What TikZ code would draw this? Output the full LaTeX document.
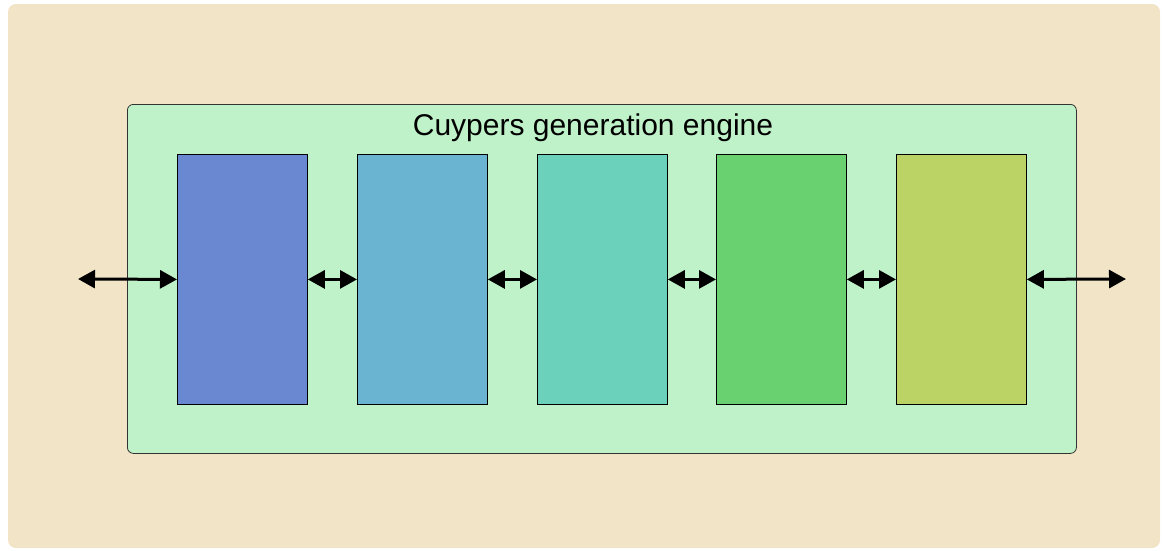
\documentclass[tikz,border=0pt]{standalone}
\usepackage{fontspec}
\setmainfont{Liberation Sans}
\usetikzlibrary{arrows.meta}
\definecolor{bgc}{HTML}{F2E4C6}
\definecolor{engc}{HTML}{BFF2C8}
\definecolor{ca}{HTML}{6A87D1}
\definecolor{cb}{HTML}{6AB4D1}
\definecolor{cc}{HTML}{6BD1BA}
\definecolor{cd}{HTML}{69D170}
\definecolor{ce}{HTML}{BBD264}
\tikzset{
  modbox/.style={draw=black, line width=0.8pt, minimum width=130pt, minimum height=250pt, inner sep=0pt, anchor=north west},
  link/.style={line width=3pt, {Triangle[length=17pt,width=18pt]}-{Triangle[length=17pt,width=18pt]}}
}
\begin{document}
\begin{tikzpicture}[x=1pt,y=-1pt]
\useasboundingbox (0,0) rectangle (1167,550);
\fill[bgc, rounded corners=8pt] (8,4) rectangle (1160,548);
\node[draw=black!80, line width=0.8pt, fill=engc, rounded corners=6pt, minimum width=949pt, minimum height=349pt, inner sep=0pt, anchor=north west] (eng) at (127,104) {};
\node[font=\fontsize{30}{36}\selectfont, anchor=center] (title) at (593,128) {Cuypers generation engine};
\node[modbox, fill=ca] (m1) at (177,154) {};
\node[modbox, fill=cb] (m2) at (357,154) {};
\node[modbox, fill=cc] (m3) at (537,154) {};
\node[modbox, fill=cd] (m4) at (716,154) {};
\node[modbox, fill=ce] (m5) at (896,154) {};
\coordinate (lin) at (78,279);
\coordinate (rout) at (1126,279);
\draw[link] (lin) -- (m1.west);
\draw[link] (m1.east) -- (m2.west);
\draw[link] (m2.east) -- (m3.west);
\draw[link] (m3.east) -- (m4.west);
\draw[link] (m4.east) -- (m5.west);
\draw[link] (m5.east) -- (rout);
\end{tikzpicture}
\end{document}
